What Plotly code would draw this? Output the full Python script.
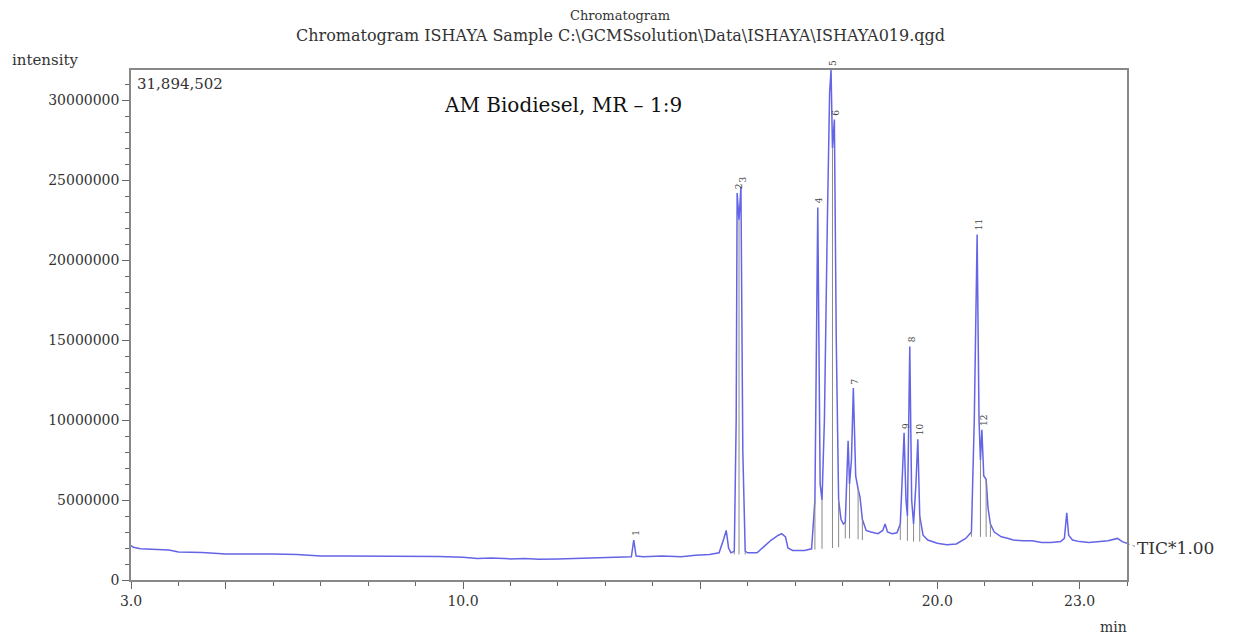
import plotly.graph_objects as go

# ---- data (time in min, intensity in millions of counts) ----
time_min = [3.00, 3.05, 3.20, 3.50, 3.80, 4.00, 4.50, 5.00, 5.50, 6.00, 6.50, 7.00, 7.50, 8.00, 8.50,
            9.00, 9.50, 10.00, 10.30, 10.60, 11.00, 11.30, 11.60, 12.00, 12.50, 13.00, 13.40, 13.55,
            13.60, 13.65, 13.80, 14.20, 14.60, 14.90, 15.20, 15.40, 15.50, 15.55, 15.60, 15.65, 15.72,
            15.76, 15.78, 15.82, 15.86, 15.90, 15.95, 16.00, 16.20, 16.35, 16.50, 16.65, 16.72, 16.80,
            16.85, 16.95, 17.20, 17.35, 17.42, 17.48, 17.50, 17.53, 17.57, 17.62, 17.68, 17.73, 17.76,
            17.79, 17.83, 17.87, 17.92, 17.97, 18.02, 18.06, 18.10, 18.12, 18.15, 18.19, 18.23, 18.28,
            18.33, 18.37, 18.42, 18.50, 18.60, 18.75, 18.85, 18.90, 18.95, 19.05, 19.15, 19.22, 19.27,
            19.30, 19.34, 19.37, 19.42, 19.46, 19.50, 19.55, 19.59, 19.63, 19.70, 19.80, 20.00, 20.20,
            20.40, 20.50, 20.60, 20.72, 20.78, 20.84, 20.88, 20.91, 20.94, 20.98, 21.03, 21.07, 21.12,
            21.20, 21.35, 21.50, 21.60, 21.80, 22.00, 22.20, 22.40, 22.60, 22.68, 22.73, 22.77, 22.85,
            23.00, 23.20, 23.40, 23.60, 23.80, 23.90, 24.00]
intensity_m = [2.15, 2.05, 1.95, 1.90, 1.88, 1.75, 1.72, 1.62, 1.63, 1.62, 1.60, 1.50, 1.50, 1.50, 1.48,
               1.50, 1.47, 1.42, 1.35, 1.38, 1.32, 1.35, 1.30, 1.32, 1.35, 1.38, 1.40, 1.45,
               2.50, 1.50, 1.45, 1.50, 1.45, 1.55, 1.60, 1.70, 2.60, 3.10, 2.00, 1.70, 1.80,
               10.0, 24.2, 22.5, 24.6, 8.0, 1.80, 1.70, 1.70, 2.10, 2.50, 2.80, 2.90, 2.70,
               2.00, 1.85, 1.85, 1.95, 5.0, 23.3, 16.0, 6.0, 5.0, 10.0, 22.0, 30.5, 31.8945,
               27.0, 28.8, 15.0, 5.0, 3.8, 3.5, 3.6, 7.0, 8.7, 6.0, 7.5, 12.0, 6.5,
               5.7, 5.2, 3.8, 3.1, 3.0, 2.9, 3.1, 3.5, 3.0, 2.9, 2.95, 3.5, 7.0,
               9.2, 5.0, 4.0, 14.6, 5.0, 3.5, 6.0, 8.8, 4.0, 2.8, 2.5, 2.3, 2.2,
               2.25, 2.4, 2.6, 3.0, 10.0, 21.6, 10.0, 7.5, 9.4, 6.5, 6.3, 4.5, 3.5,
               3.0, 2.7, 2.6, 2.5, 2.45, 2.45, 2.35, 2.35, 2.4, 2.6, 4.2, 2.8, 2.5,
               2.4, 2.35, 2.4, 2.45, 2.6, 2.4, 2.3]
intensity = [v * 1e6 for v in intensity_m]

# peak numbers and apex positions
peak_ids = ["1", "2", "3", "4", "5", "6", "7", "8", "9", "10", "11", "12"]
peak_time = [13.60, 15.78, 15.86, 17.48, 17.76, 17.83, 18.23, 19.42, 19.30, 19.59, 20.84, 20.94]
peak_height_m = [2.50, 24.2, 24.6, 23.3, 31.8945, 28.8, 12.0, 14.6, 9.2, 8.8, 21.6, 9.4]

# integration boundaries (drop lines) and the baseline they start from
bound_time = [15.72, 15.82, 15.95, 17.42, 17.57, 17.79, 17.92, 18.06, 18.15, 18.33, 18.42,
              19.22, 19.37, 19.50, 19.63, 20.72, 20.91, 21.03, 21.12]
bound_base_m = [1.6, 1.6, 1.6, 1.9, 1.95, 2.0, 2.05, 2.6, 2.6, 2.55, 2.5,
                2.5, 2.45, 2.4, 2.4, 2.7, 2.7, 2.7, 2.7]

ymax = 31894502
lookup = dict(zip(time_min, intensity))

fig = go.Figure()
fig.add_trace(go.Scatter(x=time_min, y=intensity, mode="lines",
                         line=dict(color="#6464e6", width=1.5), showlegend=False,
                         hoverinfo="x+y"))

# drop lines
dx, dy = [], []
for t, b in zip(bound_time, bound_base_m):
    dx += [t, t, None]
    dy += [b * 1e6, lookup[t], None]
fig.add_trace(go.Scatter(x=dx, y=dy, mode="lines", line=dict(color="#8a8a8a", width=1),
                         showlegend=False, hoverinfo="skip"))

serif = "DejaVu Serif"
ann = []
for pid, t, h in zip(peak_ids, peak_time, peak_height_m):
    ann.append(dict(x=t, y=h * 1e6, xref="x", yref="y", text=pid, showarrow=False,
                    textangle=-90, yanchor="bottom", yshift=2, xshift=2,
                    font=dict(family=serif, size=9, color="#444444")))

ann += [
    dict(x=0.491, y=1.1059, xref="paper", yref="paper", text="Chromatogram", showarrow=False,
         font=dict(family=serif, size=13, color="#333333"), xanchor="center", yanchor="middle"),
    dict(x=0.491, y=1.0686, xref="paper", yref="paper",
         text="Chromatogram ISHAYA Sample C:\\GCMSsolution\\Data\\ISHAYA\\ISHAYA019.qgd",
         showarrow=False, font=dict(family=serif, size=16, color="#333333"),
         xanchor="center", yanchor="middle"),
    dict(x=-0.1215, y=1.0196, xref="paper", yref="paper", text="intensity", showarrow=False,
         font=dict(family=serif, size=15, color="#333333"), xanchor="left", yanchor="middle"),
    dict(x=0.986, y=-0.092, xref="paper", yref="paper", text="min", showarrow=False,
         font=dict(family=serif, size=14, color="#333333"), xanchor="center", yanchor="middle"),
    dict(x=1.008, y=0.0627, xref="paper", yref="paper", text="TIC*1.00", showarrow=False,
         font=dict(family=serif, size=17, color="#333333"), xanchor="left", yanchor="middle"),
    dict(x=0.004, y=0.9725, xref="paper", yref="paper", text="31,894,502", showarrow=False,
         font=dict(family=serif, size=15, color="#333333"), xanchor="left", yanchor="middle"),
    dict(x=0.4337, y=0.931, xref="paper", yref="paper", text="AM Biodiesel, MR – 1:9",
         showarrow=False, font=dict(family=serif, size=20, color="#111111"),
         xanchor="center", yanchor="middle"),
]

# page has an 8px body margin: figure sized so the plot lands where the reference has it
fig.update_layout(
    width=1233, height=629,
    margin=dict(l=123, r=114, t=62, b=57),
    paper_bgcolor="white", plot_bgcolor="white",
    annotations=ann,
    shapes=[dict(type="line", xref="paper", yref="paper", x0=1.0, x1=1.008,
                 y0=0.072, y1=0.066, line=dict(color="#888888", width=1, dash="dot"))],
)
fig.update_xaxes(range=[3, 24], tickvals=[3, 5, 10, 15, 20, 23],
                 ticktext=["3.0", "", "10.0", "", "20.0", "23.0"],
                 ticks="outside", ticklen=7, tickcolor="#666666",
                 minor=dict(tick0=3, dtick=1, ticks="outside", ticklen=4, tickcolor="#666666"),
                 showgrid=False, zeroline=False, showline=True, linecolor="#888888", linewidth=1.5,
                 mirror=True, tickfont=dict(family=serif, size=14, color="#333333"))
fig.update_yaxes(range=[0, ymax], tickvals=[0, 5e6, 10e6, 15e6, 20e6, 25e6, 30e6],
                 ticktext=["0", "5000000", "10000000", "15000000", "20000000", "25000000", "30000000"],
                 ticks="outside", ticklen=7, tickcolor="#666666",
                 minor=dict(tick0=0, dtick=1e6, ticks="outside", ticklen=4, tickcolor="#666666"),
                 showgrid=False, zeroline=False, showline=True, linecolor="#888888", linewidth=1.5,
                 mirror=True, tickfont=dict(family=serif, size=14, color="#333333"))

fig.write_html("out.html")
